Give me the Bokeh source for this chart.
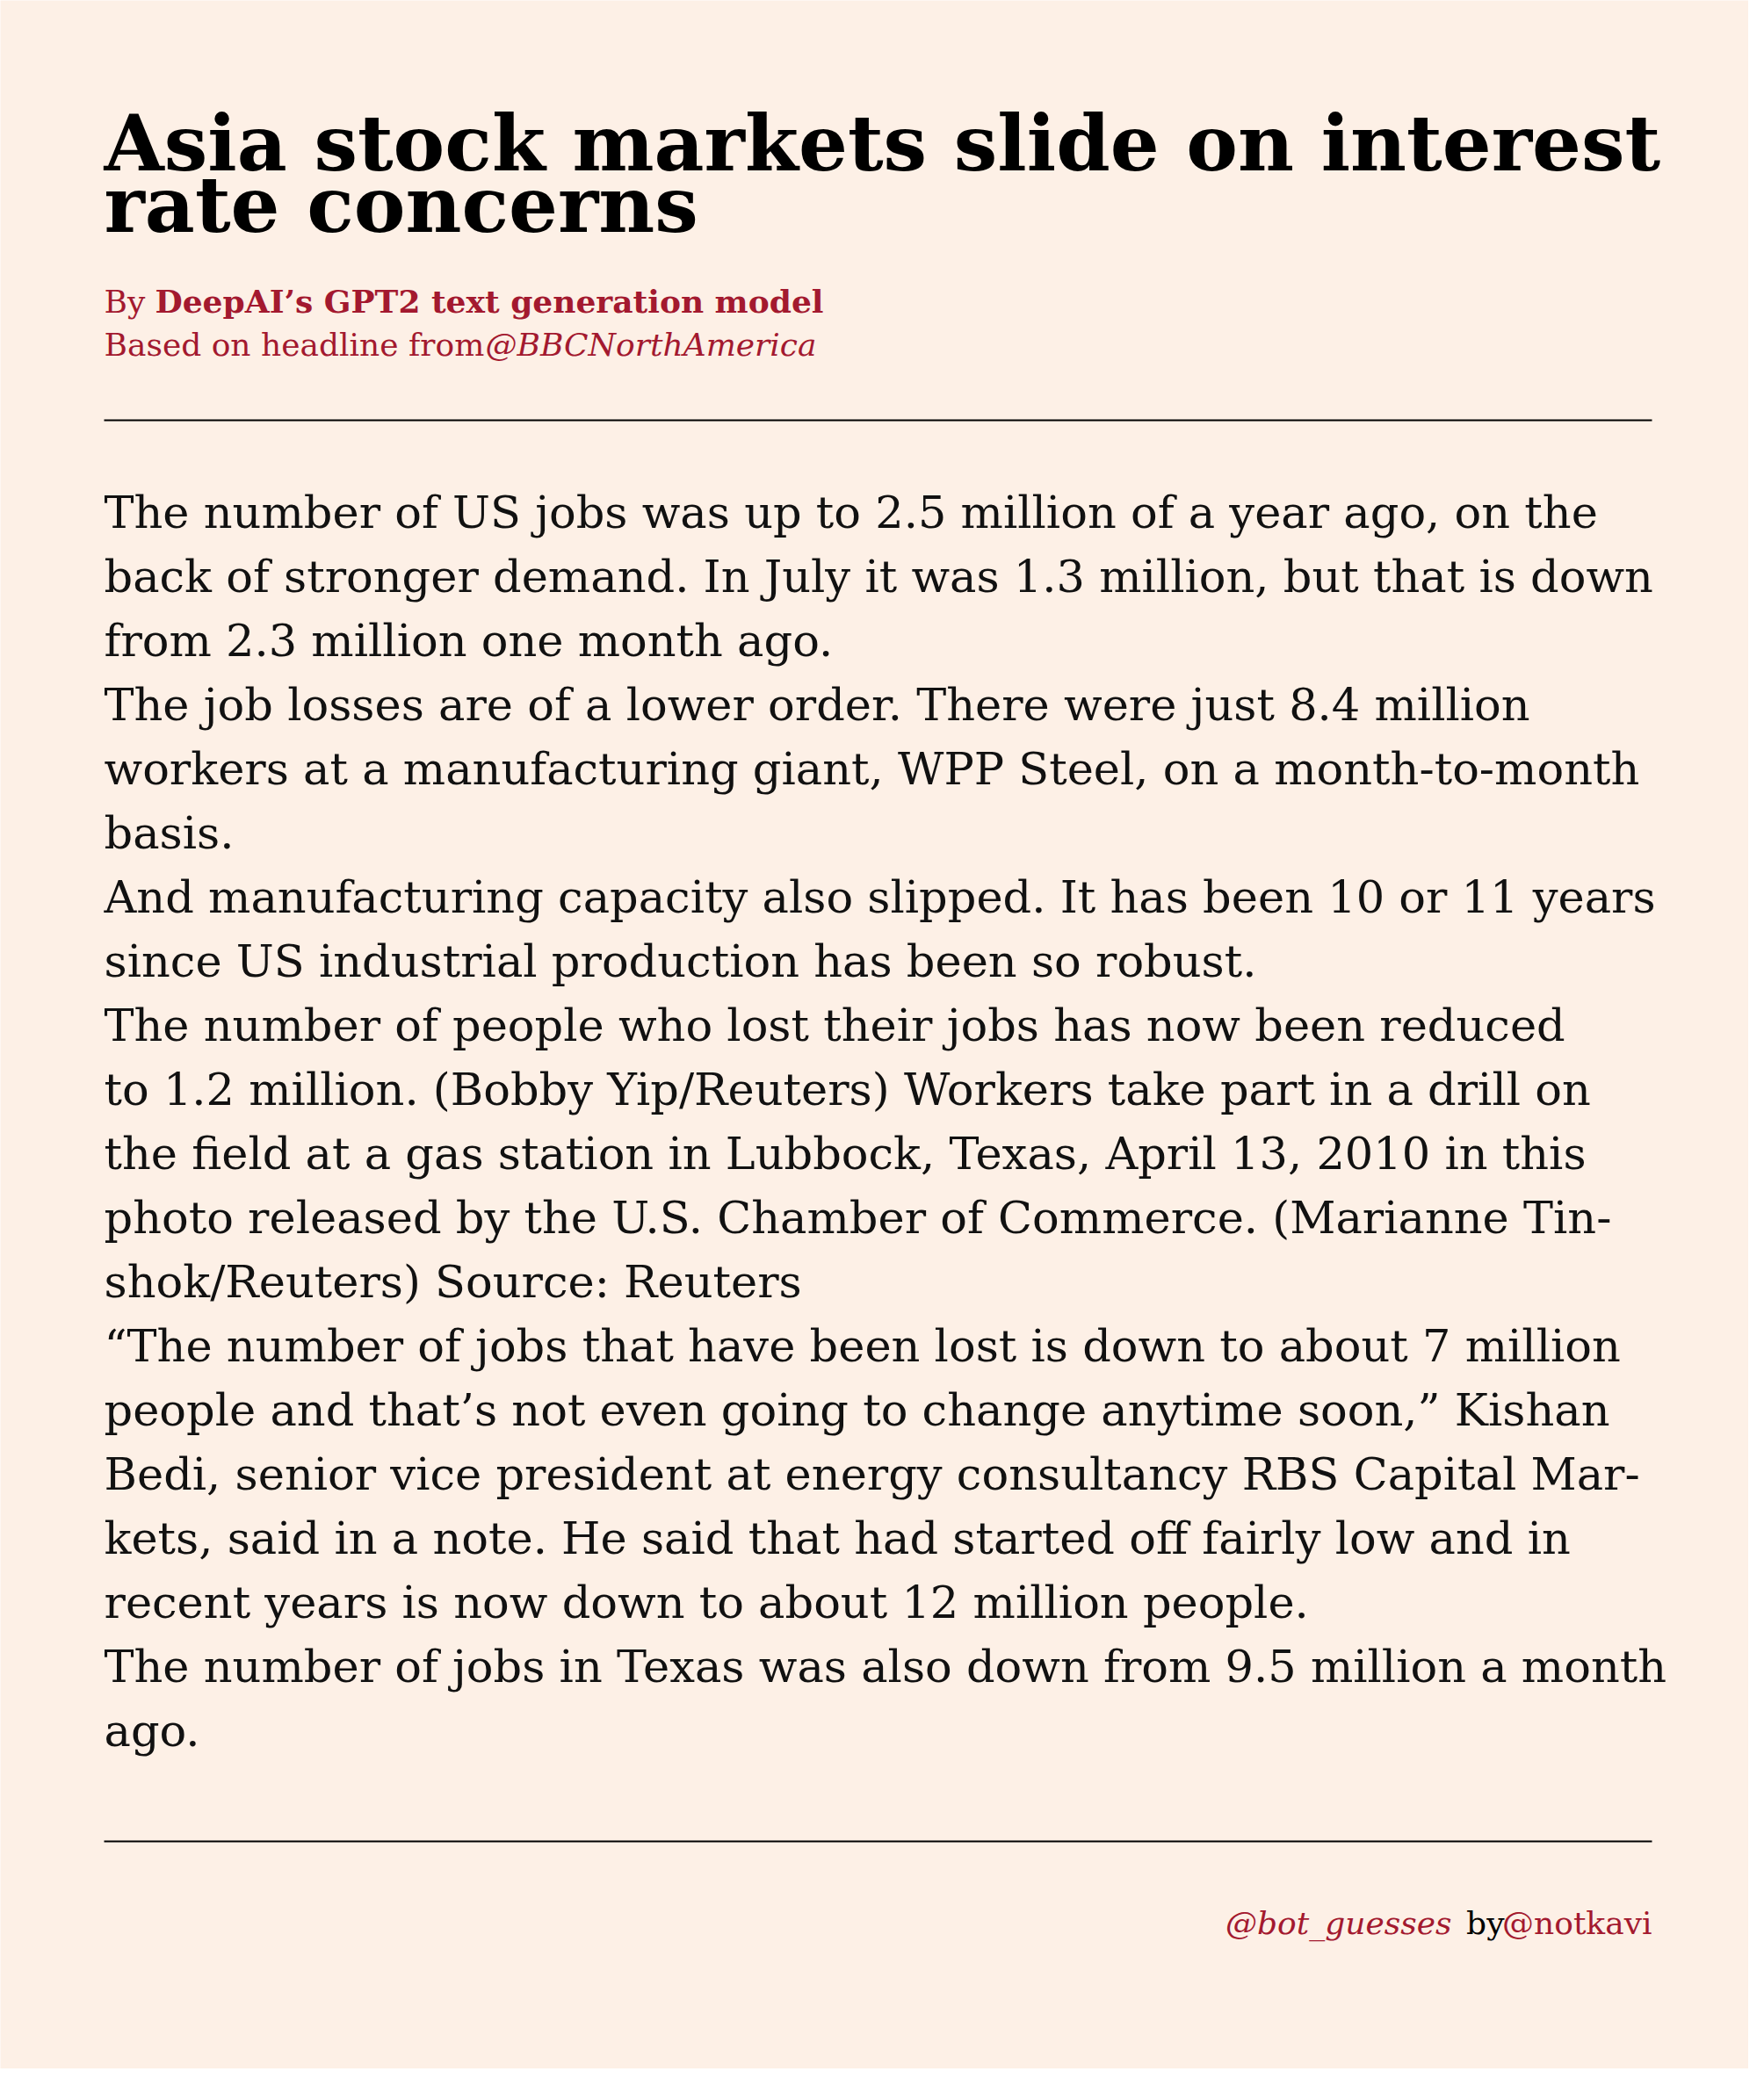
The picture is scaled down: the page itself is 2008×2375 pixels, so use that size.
from bokeh.plotting import figure
from bokeh.models import ColumnDataSource
from bokeh.core.properties import value
from bokeh.embed import file_html
from bokeh.resources import INLINE

W, H = 1990, 2355
bg = '#fdf0e6'
red = '#a3192f'
serif = 'DejaVu Serif'

title_lines = ['Asia stock markets slide on interest', 'rate concerns']
byline = ['By ', "DeepAI\u2019s GPT2 text generation model"]
basedon = ['Based on headline from ', '@BBCNorthAmerica']
body_lines = [
    'The number of US jobs was up to 2.5 million of a year ago, on the',
    'back of stronger demand. In July it was 1.3 million, but that is down',
    'from 2.3 million one month ago.',
    'The job losses are of a lower order.  There were just 8.4 million',
    'workers at a manufacturing giant, WPP Steel, on a month-to-month',
    'basis.',
    'And manufacturing capacity also slipped. It has been 10 or 11 years',
    'since US industrial production has been so robust.',
    'The number of people who lost their jobs has now been reduced',
    'to 1.2 million.  (Bobby Yip/Reuters) Workers take part in a drill on',
    'the field at a gas station in Lubbock, Texas, April 13, 2010 in this',
    'photo released by the U.S. Chamber of Commerce.  (Marianne Tin-',
    'shok/Reuters) Source: Reuters',
    '\u201cThe number of jobs that have been lost is down to about 7 million',
    'people and that\u2019s not even going to change anytime soon,\u201d Kishan',
    'Bedi, senior vice president at energy consultancy RBS Capital Mar-',
    'kets, said in a note.  He said that had started off fairly low and in',
    'recent years is now down to about 12 million people.',
    'The number of jobs in Texas was also down from 9.5 million a month',
    'ago.',
]
footer = ['@bot_guesses', 'by', '@notkavi']

p = figure(width=W, height=H, x_range=(0, W), y_range=(H, 0),
           output_backend="svg", toolbar_location=None,
           background_fill_color=bg, border_fill_color=bg,
           min_border=0, outline_line_color=None)
p.axis.visible = False
p.grid.visible = False

left, right = 118, 1880

p.text(x=[left] * 2, y=[162, 232], text=title_lines, text_font=value(serif),
       text_font_style='bold', text_font_size='88px', text_color='black',
       text_baseline='alphabetic')

p.text(x=[left, left + 58], y=[363, 363], text=byline, text_font=value(serif),
       text_font_style=['normal', 'bold'], text_font_size='36px', text_color=red)
p.text(x=[left, left + 474 - 40], y=[412, 412], text=basedon, text_font=value(serif),
       text_font_style=['normal', 'italic'], text_font_size='36px', text_color=red)

p.segment(x0=[left, left], x1=[right, right], y0=[478, 2096], y1=[478, 2096],
          line_color='black', line_width=2)

src = ColumnDataSource(dict(x=[left] * len(body_lines),
                            y=[583 + 73 * i for i in range(len(body_lines))],
                            t=body_lines))
p.text(x='x', y='y', text='t', source=src, text_font=value(serif),
       text_font_size='51px', text_color='#111111', text_baseline='middle')

p.text(x=[1652, 1712, right], y=[2189] * 3, text=footer, text_font=value(serif),
       text_font_style=['italic', 'normal', 'normal'], text_font_size='36px',
       text_color=[red, 'black', red], text_align='right', text_baseline='middle')

open("out.html", "w").write(file_html(p, INLINE))
